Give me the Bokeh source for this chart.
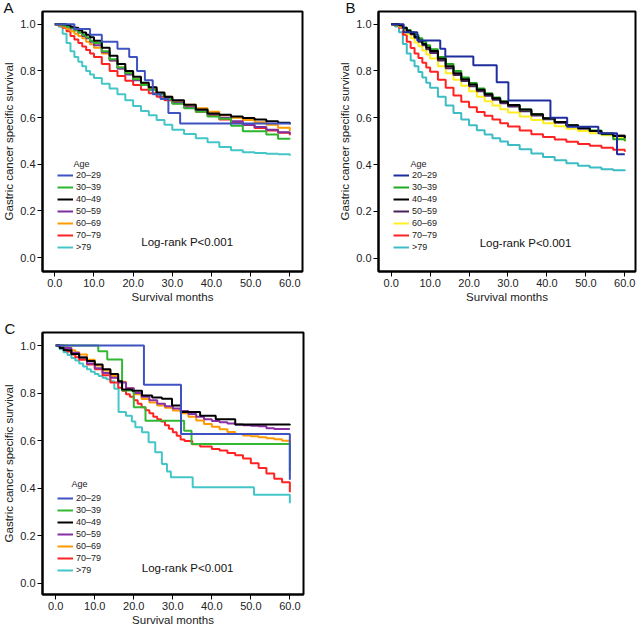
from bokeh.plotting import figure
from bokeh.models import Legend, LegendItem, Label, FixedTicker, PrintfTickFormatter, Range1d
from bokeh.layouts import column, row
from bokeh.embed import file_html
from bokeh.resources import INLINE

FONT = "Liberation Sans"

AGE_GROUPS = ["20–29", "30–39", "40–49", "50–59", "60–69", "70–79", ">79"]
X_TICKS = [0, 10, 20, 30, 40, 50, 60]
Y_TICKS = [0.0, 0.2, 0.4, 0.6, 0.8, 1.0]
LOGRANK_TEXT = "Log-rank P<0.001"

# shared month grid for the large groups of panels A and B
MONTHS_AB = [0, 1, 2, 3, 4, 5, 6, 7, 8, 9, 10, 12, 14, 16, 18, 20, 22, 24, 26, 28, 30,
             33, 36, 39, 42, 45, 48, 51, 54, 57, 60]

# ---------------- Panel A ----------------
A_2029_T = [0, 5, 9, 12, 16, 19, 21, 23, 25, 27, 29, 32, 60]
A_2029_S = [1.0, 0.98, 0.955, 0.925, 0.895, 0.86, 0.80, 0.76, 0.70, 0.68, 0.62, 0.575, 0.572]
A_3039_S = [1.0, 1.0, 0.995, 0.99, 0.985, 0.975, 0.965, 0.955, 0.945, 0.93, 0.92,
            0.885, 0.85, 0.815, 0.79, 0.765, 0.74, 0.72, 0.70, 0.68, 0.66,
            0.64, 0.625, 0.605, 0.595, 0.565, 0.542, 0.542, 0.528, 0.51, 0.508]
A_4049_S = [1.0, 1.0, 1.0, 0.997, 0.99, 0.985, 0.975, 0.965, 0.955, 0.945, 0.93,
            0.90, 0.865, 0.83, 0.80, 0.775, 0.75, 0.73, 0.708, 0.69, 0.675,
            0.655, 0.635, 0.618, 0.612, 0.605, 0.598, 0.592, 0.585, 0.578, 0.572]
A_5059_S = [1.0, 1.0, 0.995, 0.99, 0.982, 0.975, 0.965, 0.95, 0.94, 0.925, 0.91,
            0.88, 0.845, 0.81, 0.785, 0.76, 0.74, 0.72, 0.70, 0.685, 0.665,
            0.645, 0.63, 0.615, 0.60, 0.585, 0.57, 0.56, 0.548, 0.537, 0.53]
A_6069_S = [1.0, 0.995, 0.99, 0.98, 0.97, 0.96, 0.95, 0.94, 0.925, 0.915, 0.90,
            0.875, 0.845, 0.815, 0.79, 0.765, 0.745, 0.725, 0.705, 0.69, 0.67,
            0.655, 0.64, 0.625, 0.61, 0.60, 0.59, 0.58, 0.57, 0.557, 0.543]
A_7079_S = [1.0, 0.995, 0.985, 0.97, 0.95, 0.935, 0.92, 0.905, 0.89, 0.875, 0.86,
            0.83, 0.80, 0.778, 0.758, 0.74, 0.72, 0.705, 0.69, 0.675, 0.662,
            0.645, 0.625, 0.607, 0.592, 0.58, 0.568, 0.556, 0.545, 0.535, 0.525]
A_79_S = [1.0, 0.99, 0.96, 0.92, 0.885, 0.86, 0.84, 0.82, 0.80, 0.785, 0.77,
          0.745, 0.725, 0.70, 0.675, 0.65, 0.628, 0.61, 0.59, 0.57, 0.548,
          0.53, 0.512, 0.494, 0.474, 0.46, 0.452, 0.448, 0.445, 0.443, 0.437]

# ---------------- Panel B ----------------
B_2029_T = [0, 3.2, 6.7, 12.6, 13.9, 21.1, 27.1, 30.1, 40.9, 45.2, 53.2, 58.0, 60]
B_2029_S = [1.0, 0.965, 0.93, 0.895, 0.862, 0.824, 0.752, 0.674, 0.60, 0.562, 0.534, 0.444, 0.444]
B_3039_S = [1.0, 1.0, 0.995, 0.985, 0.975, 0.965, 0.955, 0.94, 0.925, 0.91, 0.893,
            0.86, 0.83, 0.80, 0.772, 0.748, 0.725, 0.705, 0.687, 0.67, 0.655,
            0.635, 0.615, 0.598, 0.582, 0.568, 0.556, 0.545, 0.53, 0.508, 0.50]
B_4049_S = [1.0, 1.0, 0.995, 0.985, 0.972, 0.96, 0.945, 0.93, 0.915, 0.90, 0.885,
            0.852, 0.82, 0.79, 0.765, 0.742, 0.72, 0.70, 0.683, 0.668, 0.655,
            0.635, 0.615, 0.598, 0.582, 0.568, 0.555, 0.543, 0.532, 0.522, 0.512]
B_5059_S = [1.0, 1.0, 0.995, 0.983, 0.97, 0.957, 0.942, 0.925, 0.91, 0.893, 0.877,
            0.845, 0.812, 0.783, 0.757, 0.735, 0.713, 0.694, 0.677, 0.662, 0.648,
            0.628, 0.61, 0.594, 0.579, 0.566, 0.554, 0.543, 0.533, 0.524, 0.515]
B_6069_S = [1.0, 0.998, 0.99, 0.975, 0.958, 0.94, 0.922, 0.905, 0.887, 0.87, 0.853,
            0.82, 0.79, 0.762, 0.737, 0.713, 0.69, 0.67, 0.652, 0.636, 0.622,
            0.605, 0.59, 0.576, 0.564, 0.553, 0.543, 0.534, 0.525, 0.512, 0.50]
B_7079_S = [1.0, 0.995, 0.985, 0.955, 0.925, 0.898, 0.875, 0.855, 0.835, 0.815, 0.797,
            0.762, 0.728, 0.695, 0.668, 0.645, 0.625, 0.608, 0.592, 0.577, 0.563,
            0.545, 0.53, 0.518, 0.507, 0.497, 0.488, 0.48, 0.472, 0.463, 0.455]
B_79_S = [1.0, 0.99, 0.965, 0.915, 0.875, 0.845, 0.82, 0.795, 0.772, 0.75, 0.728,
          0.69, 0.652, 0.62, 0.593, 0.568, 0.547, 0.528, 0.512, 0.498, 0.484,
          0.465, 0.447, 0.432, 0.418, 0.406, 0.395, 0.387, 0.38, 0.376, 0.372]

# ---------------- Panel C ----------------
C_2029_T = [0, 22.6, 32.1, 60]
C_2029_S = [1.0, 0.835, 0.628, 0.435]
C_3039_T = [0, 10.9, 13.2, 17.0, 20.0, 23.0, 32.9, 34.8, 60]
C_3039_S = [1.0, 0.976, 0.941, 0.811, 0.740, 0.684, 0.642, 0.586, 0.471]
C_4049_T = [0, 1, 2, 4, 6, 8, 10, 12, 14, 16, 17, 19.6, 22.1, 24.7, 27.2, 29.8, 32.1, 37, 41, 46, 60]
C_4049_S = [1.0, 0.99, 0.98, 0.965, 0.95, 0.935, 0.92, 0.90, 0.88, 0.85, 0.815, 0.81, 0.79,
            0.782, 0.776, 0.748, 0.72, 0.705, 0.69, 0.668, 0.665]
C_5059_T = [0, 2, 4, 6, 8, 10, 12, 14, 16, 18, 20, 22, 24, 26, 28, 30, 32, 34, 36, 38, 40,
            42, 44, 46, 48, 50, 52, 54, 56, 60]
C_5059_S = [1.0, 0.99, 0.97, 0.95, 0.925, 0.905, 0.885, 0.865, 0.845, 0.82, 0.80, 0.785,
            0.77, 0.755, 0.745, 0.735, 0.725, 0.712, 0.70, 0.69, 0.683, 0.677, 0.672,
            0.668, 0.665, 0.663, 0.66, 0.652, 0.649, 0.649]
C_6069_T = [0, 2, 3, 4, 5, 6, 8, 10, 12, 14, 16, 18, 20, 22, 24, 26, 28, 30, 32, 34, 36,
            38, 40, 42, 44, 46, 48, 50, 52, 54, 56, 58, 60]
C_6069_S = [1.0, 1.0, 0.99, 0.98, 0.972, 0.962, 0.94, 0.916, 0.895, 0.872, 0.848, 0.82,
            0.795, 0.775, 0.76, 0.748, 0.738, 0.727, 0.715, 0.70, 0.685, 0.67, 0.658,
            0.648, 0.636, 0.628, 0.622, 0.618, 0.614, 0.61, 0.606, 0.6, 0.586]
C_7079_T = [0, 1, 2, 3, 4, 5, 6, 8, 10, 12, 14, 16, 17, 18, 19, 20, 21, 22, 23, 24, 25,
            26, 27, 28, 29, 30, 31, 32, 33, 35, 37, 40, 42, 44, 46, 48, 50, 52, 54, 56, 58, 60]
C_7079_S = [1.0, 0.993, 0.985, 0.975, 0.962, 0.951, 0.94, 0.92, 0.90, 0.875, 0.845, 0.822,
            0.81, 0.795, 0.785, 0.77, 0.755, 0.74, 0.728, 0.715, 0.70, 0.69, 0.68, 0.665,
            0.65, 0.635, 0.62, 0.605, 0.598, 0.585, 0.575, 0.565, 0.558, 0.548, 0.538,
            0.525, 0.505, 0.485, 0.462, 0.44, 0.425, 0.383]
C_79_T = [0, 1, 2, 3, 4, 5, 6, 7, 8, 9, 10, 11, 12, 13, 14, 15, 16.1, 18, 19.5, 20.4,
          22.1, 23.8, 25.5, 27.2, 28.5, 29.5, 35.1, 50.8, 60]
C_79_S = [1.0, 0.985, 0.972, 0.96, 0.948, 0.937, 0.925, 0.912, 0.90, 0.89, 0.88, 0.872,
          0.865, 0.858, 0.85, 0.818, 0.72, 0.705, 0.68, 0.656, 0.635, 0.593, 0.551,
          0.502, 0.47, 0.446, 0.404, 0.372, 0.337]

COLORS_A = ["#3f52c2", "#2eb52e", "#000000", "#7e2f9e", "#ff9a00", "#ff2222", "#44c6c8"]
COLORS_B = ["#1f2e9e", "#22a822", "#000000", "#4a235a", "#ffee22", "#ff2222", "#3cbcc4"]
COLORS_C = ["#3f52c2", "#33b833", "#000000", "#8a2fa5", "#ff9a00", "#ff2222", "#44c6c8"]


def make_panel(letter, letter_offset, series, colors, width, height,
               mb_left, mb_right, mb_top, mb_bottom, x_range, y_range,
               age_xy, logrank_x, logrank_y):
    p = figure(width=width, height=height, output_backend="svg", toolbar_location=None,
               x_range=Range1d(*x_range), y_range=Range1d(*y_range),
               min_border_left=mb_left, min_border_right=mb_right,
               min_border_top=mb_top, min_border_bottom=mb_bottom,
               background_fill_color="white", border_fill_color="white")
    p.xgrid.visible = False
    p.ygrid.visible = False
    p.outline_line_color = "black"
    p.outline_line_width = 2
    p.outline_line_alpha = 1.0

    p.title.text = letter
    p.title.align = "left"
    p.title.offset = letter_offset
    p.title.standoff = -8
    p.title.text_font = FONT
    p.title.text_font_size = "15px"
    p.title.text_font_style = "normal"
    p.title.text_color = "#111111"

    for ax in (p.xaxis[0], p.yaxis[0]):
        ax.axis_line_color = "black"
        ax.axis_line_width = 2
        ax.major_tick_line_color = "black"
        ax.major_tick_line_width = 1
        ax.major_tick_out = 5
        ax.major_tick_in = 0
        ax.minor_tick_line_color = None
        ax.major_label_text_font = FONT
        ax.major_label_text_font_size = "11px"
        ax.major_label_text_color = "#222222"
        ax.major_label_standoff = 2
        ax.axis_label_text_font = FONT
        ax.axis_label_text_font_size = "11.5px"
        ax.axis_label_text_font_style = "normal"
        ax.axis_label_text_color = "#222222"
        ax.formatter = PrintfTickFormatter(format="%.1f")
    p.xaxis[0].ticker = FixedTicker(ticks=X_TICKS)
    p.yaxis[0].ticker = FixedTicker(ticks=Y_TICKS)
    p.xaxis[0].axis_label = "Survival months"
    p.yaxis[0].axis_label = "Gastric cancer specific survival"
    p.xaxis[0].axis_label_standoff = 1
    p.yaxis[0].axis_label_standoff = 2

    renderers = [None] * len(series)
    draw_order = [6, 5, 4, 3, 1, 2, 0]
    for i in draw_order:
        t, s = series[i]
        renderers[i] = p.step(t, s, mode="after", line_color=colors[i], line_width=2)

    items = [LegendItem(label=AGE_GROUPS[i], renderers=[renderers[i]]) for i in range(len(series))]
    legend = Legend(items=items, location=(15, 19), orientation="vertical",
                    label_text_font=FONT, label_text_font_size="9px", label_text_color="#222222",
                    glyph_width=16, glyph_height=10, label_height=10, label_standoff=3,
                    spacing=2, padding=0, margin=0,
                    border_line_alpha=0, background_fill_alpha=0)
    p.add_layout(legend)

    p.add_layout(Label(x=age_xy[0], y=age_xy[1], x_units="screen", y_units="screen", text="Age",
                       text_font=FONT, text_font_size="9px", text_color="#222222",
                       text_baseline="middle", text_align="left"))
    p.add_layout(Label(x=logrank_x, y=logrank_y, text=LOGRANK_TEXT,
                       text_font=FONT, text_font_size="11.5px", text_color="#111111",
                       text_baseline="middle", text_align="center"))
    return p


pA = make_panel("A", -39,
                [(A_2029_T, A_2029_S), (MONTHS_AB, A_3039_S), (MONTHS_AB, A_4049_S),
                 (MONTHS_AB, A_5059_S), (MONTHS_AB, A_6069_S), (MONTHS_AB, A_7079_S),
                 (MONTHS_AB, A_79_S)],
                COLORS_A, 320, 310, 42, 18, 10, 38,
                (-3.14, 63.24), (-0.0595, 1.055), (31, 108), 33.8, 0.069)
pB = make_panel("B", -33,
                [(B_2029_T, B_2029_S), (MONTHS_AB, B_3039_S), (MONTHS_AB, B_4049_S),
                 (MONTHS_AB, B_5059_S), (MONTHS_AB, B_6069_S), (MONTHS_AB, B_7079_S),
                 (MONTHS_AB, B_79_S)],
                COLORS_B, 318, 310, 58, 3, 10, 39,
                (-3.26, 62.75), (-0.057, 1.054), (32, 108), 34.5, 0.066)
pC = make_panel("C", -38,
                [(C_2029_T, C_2029_S), (C_3039_T, C_3039_S), (C_4049_T, C_4049_S),
                 (C_5059_T, C_5059_S), (C_6069_T, C_6069_S), (C_7079_T, C_7079_S),
                 (C_79_T, C_79_S)],
                COLORS_C, 320, 318, 41, 17, 22, 34,
                (-3.4, 63.5), (-0.0475, 1.055), (29, 111), 33.8, 0.062)

layout = column(row(pA, pB), pC)
open("out.html", "w").write(file_html(layout, INLINE))
